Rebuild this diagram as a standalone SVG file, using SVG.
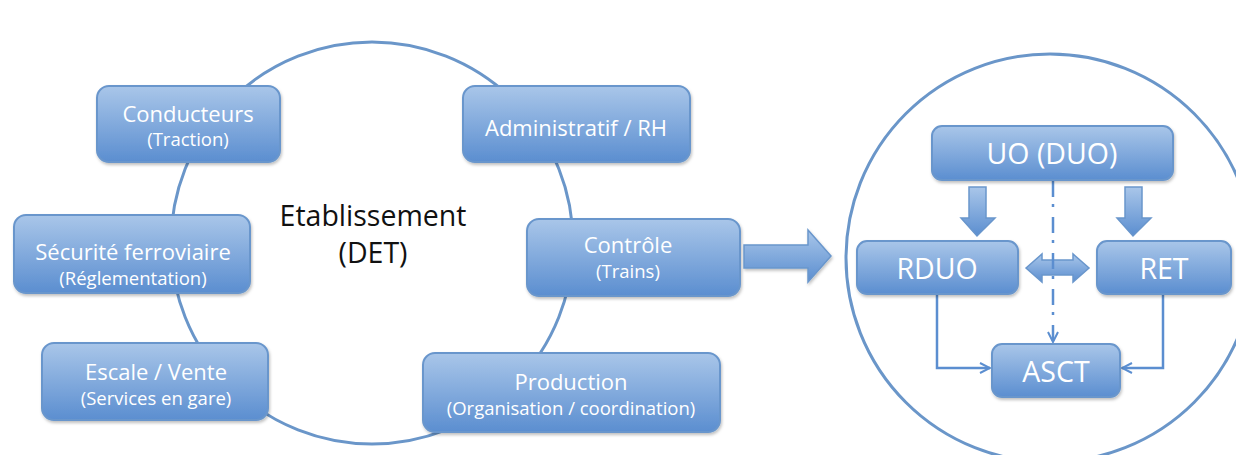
<svg xmlns="http://www.w3.org/2000/svg" width="1236" height="455" viewBox="0 0 1236 455">
<defs>
<linearGradient id="g" x1="0" y1="0" x2="0" y2="1">
<stop offset="0" stop-color="#a9c6e9"/>
<stop offset="1" stop-color="#5b8ed0"/>
</linearGradient>
<filter id="sh" x="-10%" y="-10%" width="130%" height="140%">
<feDropShadow dx="1" dy="2" stdDeviation="1.5" flood-color="#000" flood-opacity="0.25"/>
</filter>
<marker id="open" viewBox="0 0 12 12" refX="11" refY="6" markerWidth="12" markerHeight="12" markerUnits="userSpaceOnUse" orient="auto">
<path d="M1,1 L11,6 L1,11" fill="none" stroke="#5b8ed0" stroke-width="2"/>
</marker>
</defs>
<style>
.node{fill:url(#g);stroke:#6996cc;stroke-width:2;filter:url(#sh)}
.t{font-family:"Open Sans","Liberation Sans",sans-serif;fill:#fff;text-anchor:middle}
.big{font-size:22px}
.sm{font-size:18.5px}
.xl{font-size:28.5px}
.ring{fill:none;stroke:#6a96c9;stroke-width:3}
.line{fill:none;stroke:#5b8ed0;stroke-width:2.5}
.blk{fill:url(#g);stroke:#6996cc;stroke-width:1.5}
.lbl{font-family:"Open Sans","Liberation Sans",sans-serif;font-size:28.5px;fill:#111;text-anchor:middle}
</style>
<circle class="ring" cx="372" cy="243" r="201"/>
<circle class="ring" cx="1050" cy="258" r="204"/>
<text class="lbl" x="373" y="226">Etablissement</text>
<text class="lbl" x="373" y="263">(DET)</text>
<g id="conducteurs"><rect class="node" x="97" y="86" width="183" height="76" rx="12"/><text class="t big" x="188" y="122">Conducteurs</text><text class="t sm" x="188" y="146">(Traction)</text></g>
<g id="administratif"><rect class="node" x="463" y="86" width="227" height="76" rx="12"/><text class="t big" x="576" y="136">Administratif / RH</text></g>
<g id="securite"><rect class="node" x="14" y="215" width="236" height="78" rx="12"/><text class="t big" x="133" y="260">Sécurité ferroviaire</text><text class="t sm" x="133" y="285">(Réglementation)</text></g>
<g id="controle"><rect class="node" x="527" y="219" width="213" height="77" rx="12"/><text class="t big" x="628" y="253">Contrôle</text><text class="t sm" x="628" y="278">(Trains)</text></g>
<g id="escale"><rect class="node" x="42" y="343" width="226" height="77" rx="12"/><text class="t big" x="156" y="380">Escale  / Vente</text><text class="t sm" x="156" y="405">(Services en gare)</text></g>
<g id="production"><rect class="node" x="423" y="353" width="297" height="79" rx="12"/><text class="t big" x="571" y="390">Production</text><text class="t sm" x="571" y="415">(Organisation / coordination)</text></g>
<g id="connectors">
<path class="blk" d="M744,245 H808 V230 L831,256 L808,282 V268 H744 Z" filter="url(#sh)"/>
<path class="blk" d="M969,187 H986 V218 H995 L977,236 L961,218 H969 Z"/>
<path class="blk" d="M1125,187 H1142 V218 H1151 L1133,236 L1117,218 H1125 Z"/>
<path class="blk" d="M1026,268 L1042,254 V260 H1073 V254 L1089,268 L1073,282 V275 H1042 V282 Z"/>
<line class="line" x1="1053" y1="181" x2="1053" y2="342" stroke-width="3" stroke-dasharray="16,7,3,10" marker-end="url(#open)"/>
<polyline class="line" points="937,294 937,368 990,368" marker-end="url(#open)"/>
<polyline class="line" points="1163,294 1163,368 1122,368" marker-end="url(#open)"/>
</g>
<g id="uo"><rect class="node" x="932" y="126" width="241" height="54" rx="10"/><text class="t xl" x="1052" y="164">UO (DUO)</text></g>
<g id="rduo"><rect class="node" x="857" y="241" width="161" height="53" rx="10"/><text class="t xl" x="937" y="279">RDUO</text></g>
<g id="ret"><rect class="node" x="1097" y="241" width="134" height="53" rx="10"/><text class="t xl" x="1164" y="279">RET</text></g>
<g id="asct"><rect class="node" x="992" y="344" width="128" height="53" rx="10"/><text class="t xl" x="1056" y="382">ASCT</text></g>
</svg>
